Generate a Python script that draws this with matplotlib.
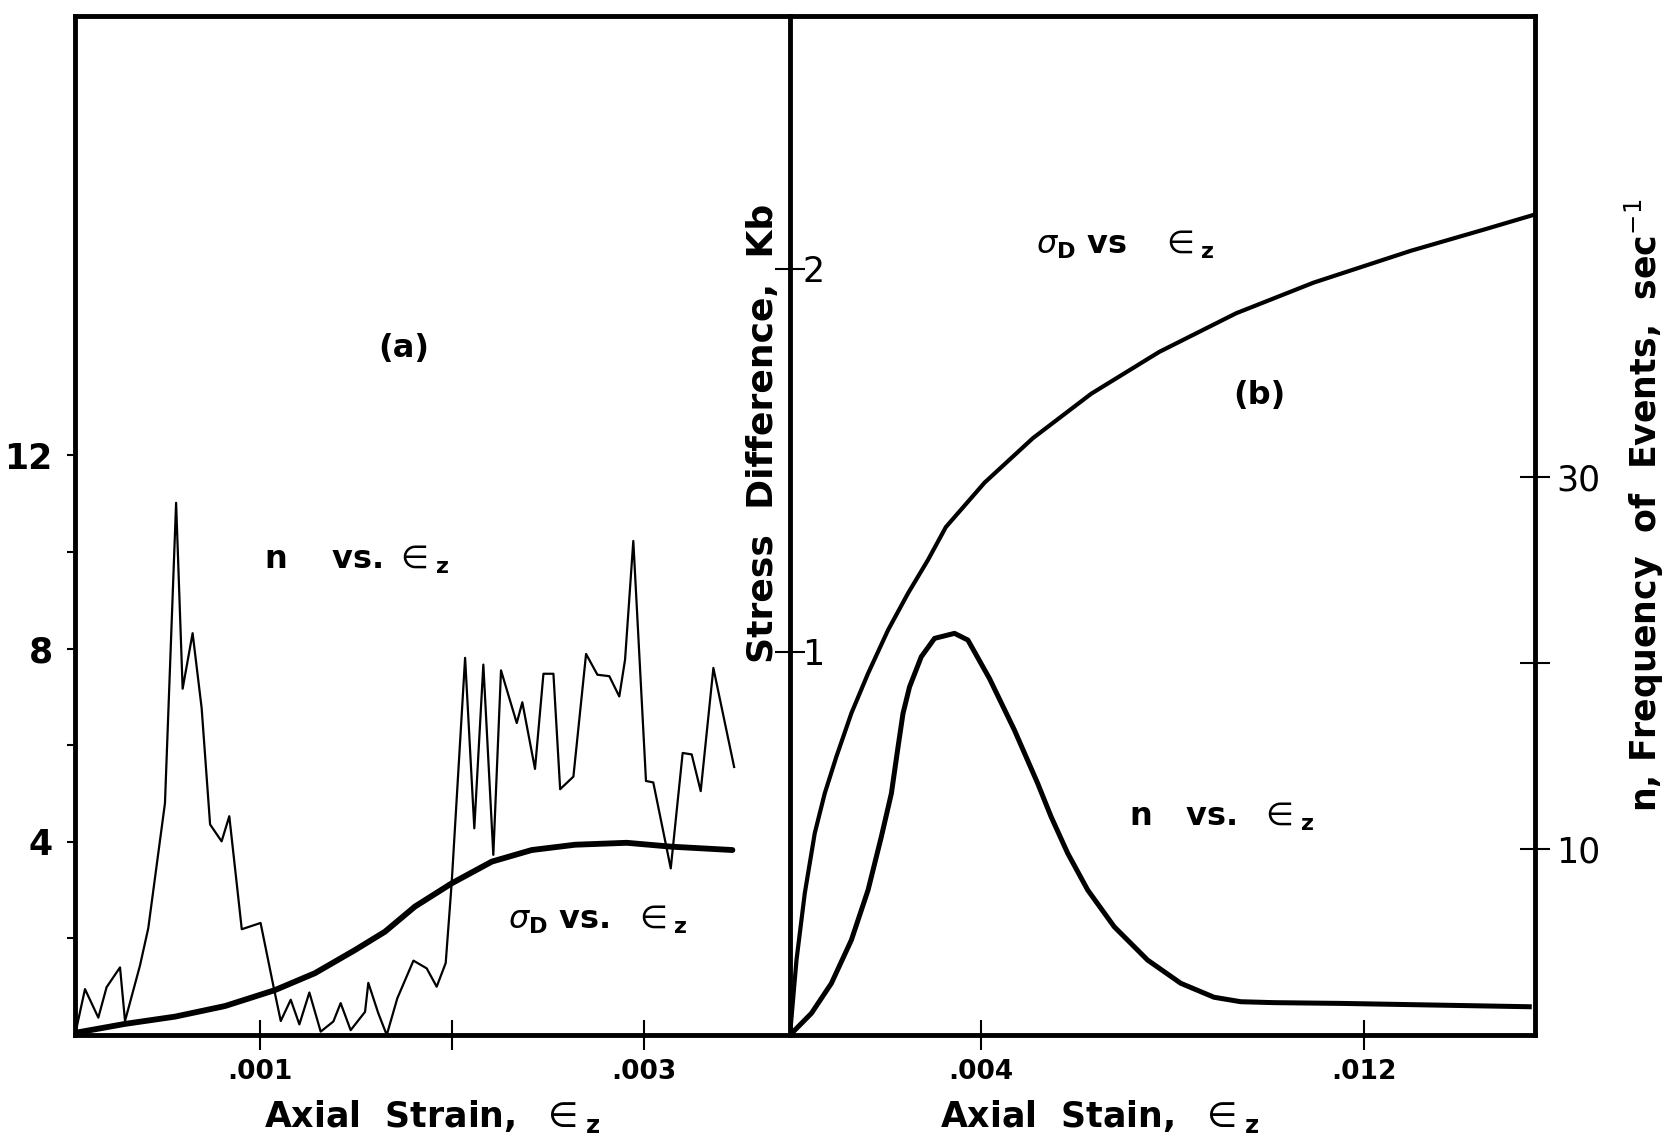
import matplotlib
matplotlib.use('Agg')
import matplotlib.pyplot as plt

# ---- panel (a): n and sigma_D vs axial strain (small strains) ----
a_n_strain = [0.0000365, 0.0000885, 0.000158, 0.000201, 0.000271, 0.000297, 0.000375,
              0.000418, 0.000505, 0.000563, 0.000597, 0.000649, 0.000696, 0.000740,
              0.000800, 0.000840, 0.000905, 0.001003, 0.001073, 0.001108, 0.00116,
              0.001205, 0.001257, 0.001316, 0.001382, 0.00142, 0.001472, 0.001547,
              0.001564, 0.001616, 0.00166, 0.001715, 0.001799, 0.001868, 0.00192,
              0.001967, 0.001998, 0.002068, 0.002116, 0.002163, 0.002215, 0.002255,
              0.002337, 0.002366, 0.002432, 0.002476, 0.002528, 0.002563, 0.002632,
              0.002698, 0.002757, 0.002819, 0.002871, 0.002901, 0.002944, 0.00301,
              0.003048, 0.003139, 0.003201, 0.003248, 0.003295, 0.003361, 0.003469]
a_n_values = [0.0, 0.95, 0.36, 0.99, 1.40, 0.29, 1.44,
              2.21, 4.80, 11.02, 7.17, 8.32, 6.77, 4.36,
              4.01, 4.53, 2.19, 2.32, 0.95, 0.29, 0.73,
              0.22, 0.88, 0.07, 0.28, 0.66, 0.10, 0.48,
              1.08, 0.45, 0.0, 0.76, 1.54, 1.38, 1.00,
              1.49, 3.14, 7.81, 4.28, 7.67, 3.73, 7.55,
              6.46, 6.89, 5.51, 7.48, 7.48, 5.09, 5.35,
              7.89, 7.46, 7.43, 7.01, 7.77, 10.23, 5.26,
              5.23, 3.45, 5.84, 5.81, 5.05, 7.60, 5.55]

a_sd_strain = [0.000045, 0.000297, 0.000557, 0.000818, 0.001078, 0.001286, 0.001495,
               0.001651, 0.001807, 0.001998, 0.002207, 0.002415, 0.002641, 0.00291,
               0.00314, 0.00346]
a_sd_values = [0.05, 0.23, 0.38, 0.60, 0.93, 1.28, 1.76,
               2.14, 2.66, 3.14, 3.59, 3.83, 3.94, 3.98,
               3.90, 3.83]

# ---- panel (b): larger strains ----
b_sd_strain = [0.0, 0.000136, 0.000309, 0.000518, 0.000727, 0.000971, 0.001284,
               0.001633, 0.00205, 0.002468, 0.002885, 0.00326, 0.00407, 0.00508,
               0.0063, 0.00772, 0.00933, 0.01095, 0.01298, 0.0145, 0.01561]
b_sd_values = [0.0, 0.196, 0.370, 0.527, 0.631, 0.727, 0.840,
               0.944, 1.057, 1.153, 1.240, 1.326, 1.442, 1.558,
               1.674, 1.783, 1.884, 1.964, 2.047, 2.102, 2.143]

b_n_strain = [0.0, 0.000449, 0.000866, 0.001284, 0.001633, 0.00191, 0.00212,
              0.00226, 0.002363, 0.0025, 0.002745, 0.003023, 0.00344, 0.00372,
              0.004172, 0.004693, 0.00518, 0.00546, 0.005808, 0.006225, 0.006781,
              0.007478, 0.008173, 0.008868, 0.009426, 0.01012, 0.01151, 0.01546]
b_n_values = [0.0, 1.17, 2.78, 5.11, 7.80, 10.66, 12.99,
              15.50, 17.29, 18.72, 20.34, 21.33, 21.6, 21.24,
              19.17, 16.4, 13.53, 11.74, 9.77, 7.80, 5.82,
              4.03, 2.78, 2.03, 1.79, 1.74, 1.70, 1.52]

a_xticks = [0.001, 0.002, 0.003]
a_xticklabels = ['.001', '', '.003']
a_yticks = [4, 8, 12]
a_yticklabels = ['4', '8', '12']
a_yminor = [2, 6, 10]
b_xticks = [0.004, 0.012]
b_xticklabels = ['.004', '.012']
b_stress_ticks = [1, 2]
b_n_ticks = [10, 20, 30]
b_n_ticklabels = ['10', '', '30']

EPS = r'$\in_{\mathbf{z}}$'
SIG = r'$\sigma_{\mathbf{D}}$'


def main():
    plt.rcParams['font.family'] = ['DejaVu Sans']
    plt.rcParams['mathtext.fontset'] = 'dejavusans'

    fig = plt.figure(figsize=(16.75, 11.47), dpi=100)
    W, H = 1675, 1147
    left, mid, right = 75, 790, 1535
    bot, top = 1035, 16
    ax1 = fig.add_axes([left / W, 1 - bot / H, (mid - left) / W, (bot - top) / H])
    ax2 = fig.add_axes([mid / W, 1 - bot / H, (right - mid) / W, (bot - top) / H])

    # panel (a)
    ax1.plot(a_n_strain, a_n_values, color='black', lw=1.6)
    ax1.plot(a_sd_strain, a_sd_values, color='black', lw=4.2, solid_capstyle='round',
             solid_joinstyle='round')
    ax1.set_xlim(0.0000365, 0.00376)
    ax1.set_ylim(0, 21.1)
    ax1.set_xticks(a_xticks)
    ax1.set_xticklabels(a_xticklabels, fontsize=19, fontweight='bold')
    ax1.set_yticks(a_yticks)
    ax1.set_yticklabels(a_yticklabels, fontsize=25, fontweight='bold')
    ax1.set_yticks(a_yminor, minor=True)
    ax1.tick_params(axis='x', direction='inout', length=22, width=1.5, pad=6)
    ax1.tick_params(axis='y', which='both', direction='out', length=6, width=1.5, pad=10)
    for s in ['left', 'top', 'bottom']:
        ax1.spines[s].set_linewidth(3.5)
    ax1.spines['right'].set_visible(False)
    ax1.set_xlabel('Axial  Strain,  ' + EPS, fontsize=25, fontweight='bold')
    ax1.xaxis.set_label_coords(0.50, -0.062)

    ax1.text(0.46, 0.674, '(a)', transform=ax1.transAxes, fontsize=23,
             fontweight='bold', ha='center', va='center')
    ax1.text(0.265, 0.466, 'n    vs. ' + EPS, transform=ax1.transAxes, fontsize=23,
             fontweight='bold', ha='left', va='center')
    ax1.text(0.605, 0.113, SIG + ' vs.  ' + EPS, transform=ax1.transAxes, fontsize=23,
             fontweight='bold', ha='left', va='center')

    # panel (b): stress on the left spine, n on the right spine
    ax2.plot(b_sd_strain, b_sd_values, color='black', lw=3.0, solid_joinstyle='round')
    ax2.set_xlim(0, 0.01558)
    ax2.set_ylim(0, 2.66)
    ax2.set_xticks(b_xticks)
    ax2.set_xticklabels(b_xticklabels, fontsize=19, fontweight='bold')
    ax2.set_yticks(b_stress_ticks)
    ax2.set_yticklabels([str(t) for t in b_stress_ticks], fontsize=25)
    for tl in ax2.get_yticklabels():
        tl.set_horizontalalignment('left')
    ax2.tick_params(axis='x', direction='inout', length=22, width=1.5, pad=6)
    ax2.tick_params(axis='y', direction='inout', length=22, width=1.5, pad=-20)
    for s in ax2.spines.values():
        s.set_linewidth(3.5)
    ax2.set_xlabel('Axial  Stain,  ' + EPS, fontsize=25, fontweight='bold')
    ax2.xaxis.set_label_coords(0.415, -0.062)
    ax2.set_ylabel('Stress  Difference,  Kb', fontsize=26, fontweight='bold')
    ax2.yaxis.set_label_coords(-0.014, 0.59)

    ax3 = ax2.twinx()
    ax3.plot(b_n_strain, b_n_values, color='black', lw=3.6, solid_joinstyle='round')
    ax3.set_ylim(0, 54.8)
    ax3.set_yticks(b_n_ticks)
    ax3.set_yticklabels(b_n_ticklabels, fontsize=25)
    ax3.tick_params(axis='y', direction='inout', length=22, width=1.5, pad=4)
    for s in ax3.spines.values():
        s.set_visible(False)
    ax3.set_ylabel('n, Frequency  of  Events,  sec$^{-1}$', fontsize=25,
                   fontweight='bold')
    ax3.yaxis.set_label_coords(1.118, 0.52)

    ax2.text(0.33, 0.775, SIG + ' vs   ' + EPS, transform=ax2.transAxes, fontsize=23,
             fontweight='bold', ha='left', va='center')
    ax2.text(0.63, 0.628, '(b)', transform=ax2.transAxes, fontsize=23,
             fontweight='bold', ha='center', va='center')
    ax2.text(0.455, 0.214, 'n   vs.  ' + EPS, transform=ax2.transAxes, fontsize=23,
             fontweight='bold', ha='left', va='center')

    fig.savefig('out.png', dpi=100)


if __name__ == '__main__':
    main()
